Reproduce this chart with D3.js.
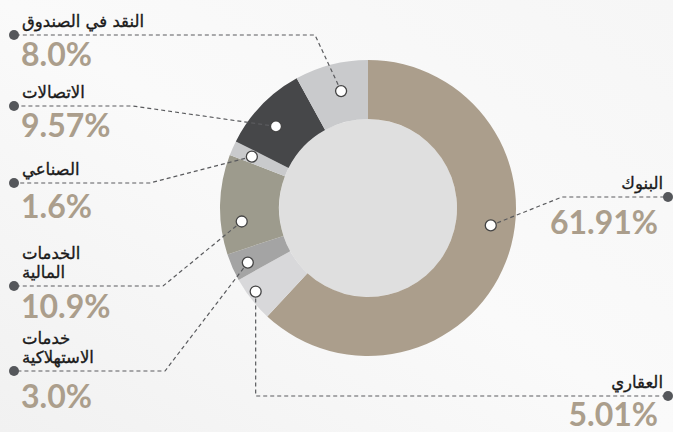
<!DOCTYPE html>
<html>
<head>
<meta charset="utf-8">
<script src="https://cdn.jsdelivr.net/npm/d3@7"></script>
<style>
  html, body { margin: 0; padding: 0; background: #fbfbfb; }
  svg { display: block; }
</style>
</head>
<body>
<div id="chart"></div>
<script>
// Sector split, clockwise from 12 o'clock
const categories = ["البنوك", "العقاري", "خدمات الاستهلاكية", "الخدمات المالية", "الصناعي", "الاتصالات", "النقد في الصندوق"];
const values = [61.91, 5.01, 3.0, 10.9, 1.6, 9.57, 8.0];
const valueLabels = ["61.91%", "5.01%", "3.0%", "10.9%", "1.6%", "9.57%", "8.0%"];
const labelLines = [["البنوك"], ["العقاري"], ["خدمات", "الاستهلاكية"], ["الخدمات", "المالية"], ["الصناعي"], ["الاتصالات"], ["النقد في الصندوق"]];
const colors = ["#ab9e8c", "#d8d8da", "#a4a4a4", "#9d9b8d", "#c9cacc", "#464749", "#c9cacc"];

// Layout for leaders and labels (not data)
const layout = [
  { side: "right", lineY: 197, bendX: 562, t: 0.44, r: 124, pctY: 234 },
  { side: "right", lineY: 396, vertical: true, t: 0.58, r: 140, pctY: 426 },
  { side: "left", lineY: 371, bendX: 165, t: 0.43, r: 132, pctY: 408 },
  { side: "left", lineY: 286, bendX: 163, t: 0.31, r: 127, pctY: 318 },
  { side: "left", lineY: 183, bendX: 150, t: 0.5, r: 127, pctY: 218 },
  { side: "left", lineY: 106, bendX: 133, t: 0.43, r: 123, pctY: 137 },
  { side: "left", lineY: 35, bendX: 315, t: 0.55, r: 120, pctY: 66 }
];

const width = 673, height = 432;
const cx = 368, cy = 208, outerR = 148, innerR = 89;

const svg = d3.select("#chart").append("svg")
  .attr("width", width)
  .attr("height", height);

// Soft background
const defs = svg.append("defs");
const grad = defs.append("linearGradient").attr("id", "bg")
  .attr("x1", "0").attr("y1", "1").attr("x2", "1").attr("y2", "0");
grad.append("stop").attr("offset", "0").attr("stop-color", "#f1f1f1");
grad.append("stop").attr("offset", "0.5").attr("stop-color", "#fafafa");
grad.append("stop").attr("offset", "1").attr("stop-color", "#f6f6f6");
svg.append("rect").attr("width", width).attr("height", height).attr("fill", "url(#bg)");

const pie = d3.pie().sort(null).value(d => d)(values);
const arc = d3.arc().innerRadius(innerR).outerRadius(outerR);

const g = svg.append("g").attr("transform", `translate(${cx},${cy})`);

g.append("circle").attr("r", innerR).attr("fill", "#dfdfdf");

g.selectAll(".slice")
  .data(pie)
  .enter()
  .append("path")
  .attr("class", "slice")
  .attr("d", arc)
  .attr("fill", (d, i) => colors[i]);

const markerPos = (d, i) => {
  const L = layout[i];
  const a = d.startAngle + L.t * (d.endAngle - d.startAngle);
  return [cx + L.r * Math.sin(a), cy - L.r * Math.cos(a)];
};

const leftX = 14, rightX = 668;

// Leader lines
svg.selectAll(".leader")
  .data(pie)
  .enter()
  .append("path")
  .attr("class", "leader")
  .attr("fill", "none")
  .attr("stroke", "#5a5b5e")
  .attr("stroke-width", 1.2)
  .attr("stroke-dasharray", "4,3")
  .attr("d", (d, i) => {
    const L = layout[i];
    const [mx, my] = markerPos(d, i);
    const endX = L.side === "left" ? leftX : rightX;
    if (L.vertical) return `M${mx},${my}L${mx},${L.lineY}L${endX},${L.lineY}`;
    return `M${mx},${my}L${L.bendX},${L.lineY}L${endX},${L.lineY}`;
  });

// End dots
svg.selectAll(".end-dot")
  .data(pie)
  .enter()
  .append("circle")
  .attr("class", "end-dot")
  .attr("cx", (d, i) => layout[i].side === "left" ? leftX : rightX)
  .attr("cy", (d, i) => layout[i].lineY)
  .attr("r", 5)
  .attr("fill", "#55575b");

// Markers on slices
svg.selectAll(".marker")
  .data(pie)
  .enter()
  .append("circle")
  .attr("class", "marker")
  .attr("cx", (d, i) => markerPos(d, i)[0])
  .attr("cy", (d, i) => markerPos(d, i)[1])
  .attr("r", 5.5)
  .attr("fill", "#fff")
  .attr("stroke", "#444")
  .attr("stroke-width", 1.3);

// Category labels
labelLines.forEach((lines, i) => {
  const L = layout[i];
  const left = L.side === "left";
  const x = left ? 22 : 663;
  lines.forEach((txt, j) => {
    svg.append("text")
      .attr("x", x)
      .attr("y", L.lineY - 8 - (lines.length - 1 - j) * 19)
      .attr("text-anchor", left ? "start" : "end")
      .attr("font-family", "'DejaVu Sans', sans-serif")
      .attr("font-size", 16.5)
      .attr("fill", "#1a1a1a")
      .attr("stroke", "#1a1a1a")
      .attr("stroke-width", 0.35)
      .text(txt);
  });
});

// Percent labels
svg.selectAll(".pct")
  .data(valueLabels)
  .enter()
  .append("text")
  .attr("class", "pct")
  .attr("x", (d, i) => layout[i].side === "left" ? 21 : 658)
  .attr("y", (d, i) => layout[i].pctY)
  .attr("text-anchor", (d, i) => layout[i].side === "left" ? "start" : "end")
  .attr("font-family", "Lato, 'Open Sans', sans-serif")
  .attr("font-weight", 700)
  .attr("font-size", 32)
  .attr("fill", "#ab9e8c")
  .text(d => d);
</script>
</body>
</html>
